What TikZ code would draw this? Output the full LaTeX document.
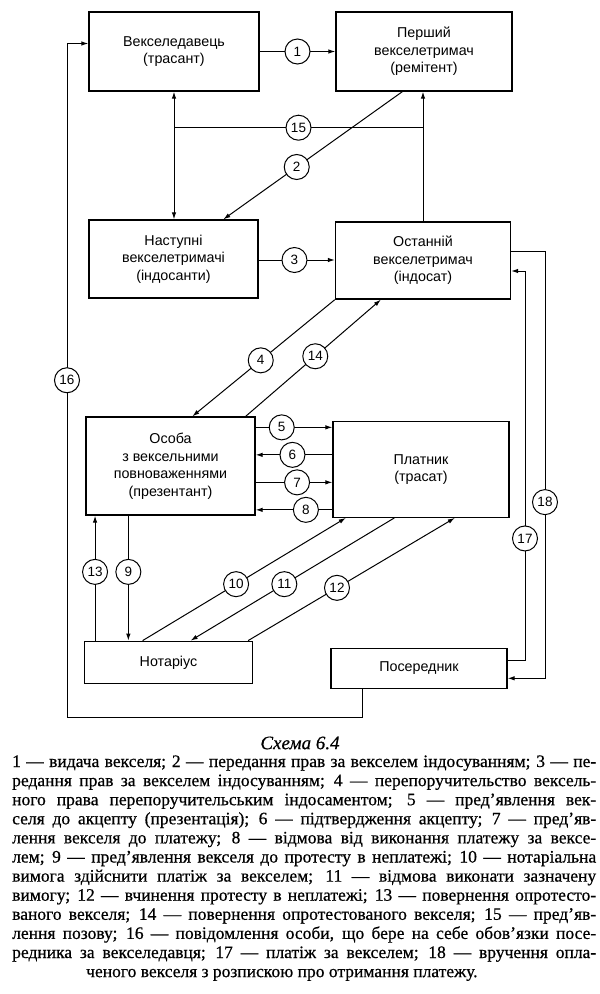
\documentclass[tikz,border=0pt]{standalone}
\usepackage{fontspec}
\setmainfont{Liberation Serif}[FakeBold=0.5]
\newfontfamily\captfont{Liberation Serif}[AutoFakeBold=0.6]
\newfontfamily\diagfont{Liberation Sans}
\usetikzlibrary{arrows.meta}
\begin{document}
\begin{tikzpicture}[x=1pt,y=-1pt,
  box/.style={draw, line width=1.3pt, align=center, inner sep=2pt,
    font=\diagfont\fontsize{14.3}{17.5}\selectfont},
  circ/.style={draw, circle, fill=white, line width=1pt, minimum size=25pt,
    inner sep=0pt, font=\diagfont\fontsize{13.5}{13.5}\selectfont},
  conn/.style={line width=1pt},
  arr/.style={conn, -{Latex[length=7pt,width=4.5pt]}},
  darr/.style={conn, {Latex[length=7pt,width=4.5pt]}-{Latex[length=7pt,width=4.5pt]}},
  capline/.style={anchor=base west, inner sep=0pt, font=\captfont\bfseries\fontsize{17.5}{19}\selectfont}]
\useasboundingbox (0,0) rectangle (600,994);
% boxes
\node[box, minimum width=170pt, minimum height=79pt] (vekd) at (174,51.5) {Векселедавець\\(трасант)};
\node[box, minimum width=176pt, minimum height=79pt] (persh) at (424,51.5) {Перший\\векселетримач\\(ремітент)};
\node[box, minimum width=169pt, minimum height=78pt] (nast) at (173.5,259) {Наступні\\векселетримачі\\(індосанти)};
\node[box, minimum width=175pt, minimum height=77pt] (ost) at (423,260.5) {Останній\\векселетримач\\(індосат)};
\node[box, minimum width=169pt, minimum height=98pt] (osoba) at (170.5,466) {Особа\\з вексельними\\повноваженнями\\(презентант)};
\node[box, minimum width=176pt, minimum height=95.5pt] (platn) at (421,469.5) {Платник\\(трасат)};
\node[box, minimum width=168.5pt, minimum height=42.5pt] (notar) at (168.5,662.5) {Нотаріус};
\node[box, minimum width=176pt, minimum height=40pt] (poser) at (419,668.3) {Посередник};
% 1
\draw[arr] (vekd.east) -- node[circ]{1} (persh.west);
% verticals and 15
\draw[darr] (vekd.south) -- (vekd.south |- nast.north);
\draw[arr] (ost.north) -- (ost.north |- persh.south);
\coordinate (j15) at (174,127.7);
\draw[conn] (j15) -- node[circ]{15} (j15 -| ost.north);
% 2
\draw[arr] ([xshift=67pt]persh.south west) -- node[circ,pos=0.59]{2} ([xshift=135pt]nast.north west);
% 3
\coordinate (s3) at ([yshift=-1pt]nast.east);
\draw[arr] (s3) -- node[circ,pos=0.47]{3} (s3 -| ost.west);
% 4 and 14
\draw[arr] (ost.south west) -- node[circ,pos=0.52]{4} ([xshift=107pt]osoba.north west);
\draw[arr] ([xshift=-10pt]osoba.north east) -- node[circ,pos=0.515]{14} ([xshift=46pt]ost.south west);
% 5-8
\coordinate (s5) at ([yshift=-11pt]osoba.north east);
\coordinate (s6) at ([yshift=-38.5pt]osoba.north east);
\coordinate (s7) at ([yshift=-66pt]osoba.north east);
\coordinate (s8) at ([yshift=-93.5pt]osoba.north east);
\draw[arr] (s5) -- node[circ,pos=0.34]{5} (s5 -| platn.west);
\draw[arr] (s6 -| platn.west) -- node[circ,pos=0.52]{6} (s6);
\draw[arr] (s7) -- node[circ,pos=0.54]{7} (s7 -| platn.west);
\draw[arr] (s8 -| platn.west) -- node[circ,pos=0.345]{8} (s8);
% 9 and 13
\coordinate (s9) at ([xshift=43pt]osoba.south west);
\coordinate (s13) at ([xshift=9.7pt]osoba.south west);
\draw[arr] (s9) -- node[circ,pos=0.45]{9} (s9 |- notar.north);
\draw[arr] (s13 |- notar.north) -- node[circ,pos=0.55]{13} (s13);
% 10-12
\draw[arr] ([xshift=59pt]notar.north west) -- node[circ,pos=0.46]{10} ([xshift=13.5pt]platn.south west);
\draw[arr] ([xshift=62pt]platn.south west) -- node[circ,pos=0.54]{11} ([xshift=107pt]notar.north west);
\draw[arr] ([xshift=164.5pt]notar.north west) -- node[circ,pos=0.43]{12} ([xshift=122.5pt]platn.south west);
% 16
\coordinate (b16) at (67,717);
\coordinate (s16) at ([xshift=32.5pt]poser.south west);
\coordinate (e16) at ([yshift=8pt]vekd.west);
\draw[arr] (s16) -- (s16 |- b16) -- (b16) -- node[circ,pos=0.5]{16} (b16 |- e16) -- (e16);
% 17
\coordinate (s17) at ([yshift=8pt]poser.east);
\coordinate (e17) at ([yshift=-10.5pt]ost.east);
\coordinate (v17) at (525,0);
\draw[arr] (s17) -- (s17 -| v17) -- node[circ,pos=0.313]{17} (e17 -| v17) -- (e17);
% 18
\coordinate (s18) at ([yshift=8.8pt]ost.east);
\coordinate (e18) at ([yshift=-10pt]poser.east);
\coordinate (v18) at (545,0);
\draw[arr] (s18) -- (s18 -| v18) -- node[circ,pos=0.587]{18} (e18 -| v18) -- (e18);
% caption
\node[font=\fontsize{19}{19}\selectfont\itshape] (cap) at (300,743) {Схема 6.4};
\node[capline] (cl1) at (12,767) {\makebox[584pt][s]{1 — видача векселя; 2 — передання прав за векселем індосуванням; 3 — пе-}};
\node[capline] (cl2) at (12,786.1) {\makebox[584pt][s]{редання прав за векселем індосуванням; 4 — перепоручительство вексель-}};
\node[capline] (cl3) at (12,805.2) {\makebox[584pt][s]{ного права перепоручительським індосаментом; 5 — пред’явлення век-}};
\node[capline] (cl4) at (12,824.3) {\makebox[584pt][s]{селя до акцепту (презентація); 6 — підтвердження акцепту; 7 — пред’яв-}};
\node[capline] (cl5) at (12,843.4) {\makebox[584pt][s]{лення векселя до платежу; 8 — відмова від виконання платежу за вексе-}};
\node[capline] (cl6) at (12,862.5) {\makebox[584pt][s]{лем; 9 — пред’явлення векселя до протесту в неплатежі; 10 — нотаріальна}};
\node[capline] (cl7) at (12,881.6) {\makebox[584pt][s]{вимога здійснити платіж за векселем; 11 — відмова виконати зазначену}};
\node[capline] (cl8) at (12,900.7) {\makebox[584pt][s]{вимогу; 12 — вчинення протесту в неплатежі; 13 — повернення опротесто-}};
\node[capline] (cl9) at (12,919.8) {\makebox[584pt][s]{ваного векселя; 14 — повернення опротестованого векселя; 15 — пред’яв-}};
\node[capline] (cl10) at (12,938.9) {\makebox[584pt][s]{лення позову; 16 — повідомлення особи, що бере на себе обов’язки посе-}};
\node[capline] (cl11) at (12,958) {\makebox[584pt][s]{редника за векселедавця; 17 — платіж за векселем; 18 — вручення опла-}};
\node[capline] (cl12) at (86,977.1) {ченого векселя з розпискою про отримання платежу.};
\end{tikzpicture}
\end{document}
